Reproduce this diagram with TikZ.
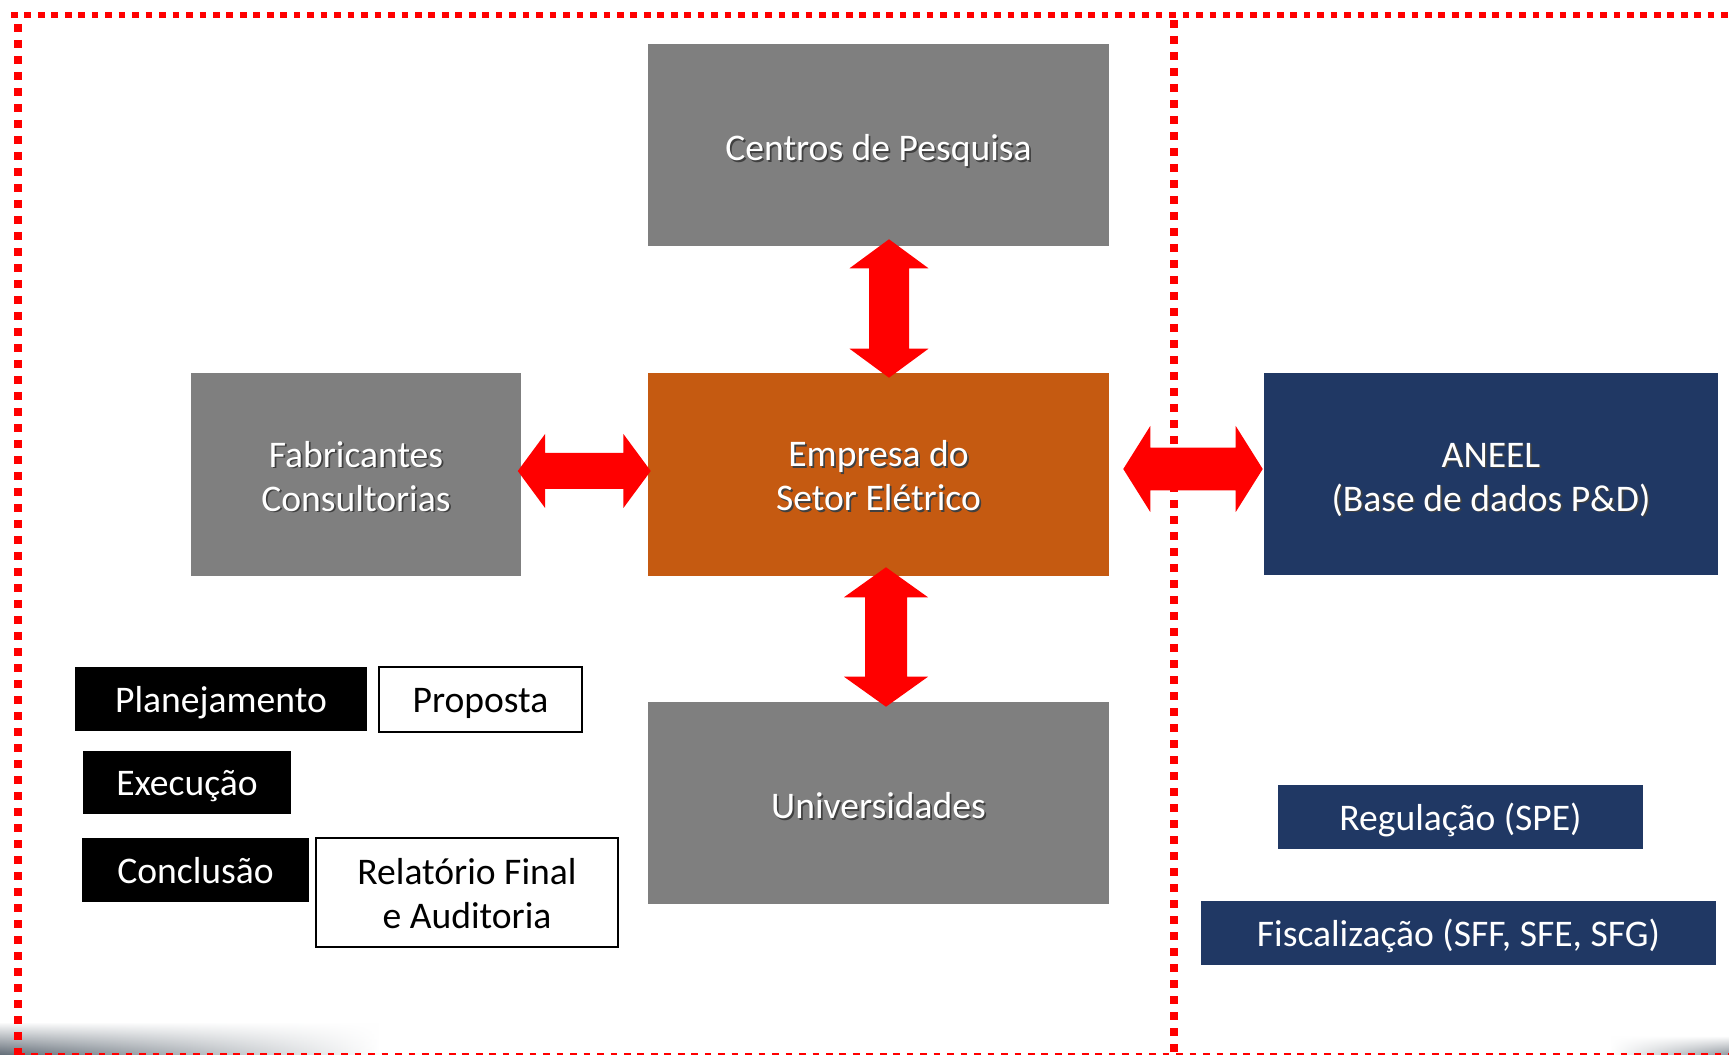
\documentclass[tikz,border=0pt]{standalone}
\usepackage{fontspec}
\setmainfont{Carlito}
\usetikzlibrary{calc,fadings}
\definecolor{boxgray}{HTML}{7F7F7F}
\definecolor{boxorange}{HTML}{C55A11}
\definecolor{boxnavy}{HTML}{203864}
\definecolor{arrowred}{HTML}{FF0000}
\definecolor{framered}{HTML}{FF0000}
\definecolor{cornershade}{HTML}{46525E}
% lower text ink by #1 while keeping box size
\newcommand\lw[2]{\raisebox{-#1}[\height][\depth]{#2}}
% white text with dark drop shadow, lowered by #1
\newcommand\shd[2]{\lw{#1}{\rlap{\hspace{1.3pt}\raisebox{-1.3pt}{\textcolor{black!75}{#2}}}#2}}
% vertical double block arrow: top tip, bottom tip, head length, head half width, shaft half width
\newcommand\vbarrow[5]{\fill[arrowred] let \p1=#1, \p2=#2 in
  (\x1,\y1) -- (\x1+#4,\y1-#3) -- (\x1+#5,\y1-#3) -- (\x1+#5,\y2+#3) -- (\x1+#4,\y2+#3)
  -- (\x1,\y2) -- (\x1-#4,\y2+#3) -- (\x1-#5,\y2+#3) -- (\x1-#5,\y1-#3) -- (\x1-#4,\y1-#3) -- cycle;}
% horizontal double block arrow: left tip, right tip, head length, head half width, shaft half width
\newcommand\hbarrow[5]{\fill[arrowred] let \p1=#1, \p2=#2 in
  (\x1,\y1) -- (\x1+#3,\y1+#4) -- (\x1+#3,\y1+#5) -- (\x2-#3,\y1+#5) -- (\x2-#3,\y1+#4)
  -- (\x2,\y1) -- (\x2-#3,\y1-#4) -- (\x2-#3,\y1-#5) -- (\x1+#3,\y1-#5) -- (\x1+#3,\y1-#4) -- cycle;}
\begin{document}
\begin{tikzpicture}[x=0.75pt,y=-0.75pt,
  lbl/.style={font=\fontsize{28.2}{33}\selectfont, inner sep=0pt, align=center},
  bigbox/.style={lbl, text=white},
  smallbox/.style={lbl, text=white, minimum height=48pt},
  outlinebox/.style={lbl, text=black, draw=black, line width=1.8pt},
  hframe/.style={framered, line width=5pt, dash pattern=on 5pt off 5.1pt},
  vframe/.style={framered, line width=6pt, dash pattern=on 5.8pt off 6.2pt}]
\useasboundingbox (0,0) rectangle (1729,1055);
\fill[white] (0,0) rectangle (1729,1055);

% corner shadows of the slide
\shade[left color=cornershade!85, right color=white, path fading=north] (0,1022) rectangle (380,1055);
\shade[left color=white, right color=cornershade!60, path fading=north] (1610,1036) rectangle (1729,1055);

% dotted frame
\draw[hframe] (11,15) -- (1729,15);
\draw[hframe] (18,1056.5) -- (1729,1056.5);
\draw[vframe] (18,24) -- (18,1055);
\draw[vframe] (1173.5,20) -- (1173.5,1055);

% main boxes
\node[bigbox, fill=boxgray, minimum width=345.75pt, minimum height=151.5pt] (cp) at (878.5,145) {\shd{5pt}{Centros de Pesquisa}};
\node[bigbox, fill=boxgray, minimum width=247.5pt, minimum height=152.25pt] (fab) at (356,474.5) {\shd{2pt}{Fabricantes}\\\shd{2pt}{Consultorias}};
\node[bigbox, fill=boxorange, minimum width=345.75pt, minimum height=152.25pt] (emp) at (878.5,474.5) {\shd{1.7pt}{Empresa do}\\\shd{1.7pt}{Setor Elétrico}};
\node[bigbox, fill=boxgray, minimum width=345.75pt, minimum height=151.5pt] (uni) at (878.5,803) {\shd{2.5pt}{Universidades}};
\node[bigbox, fill=boxnavy, minimum width=340.5pt, minimum height=151.5pt] (aneel) at (1491,474) {\shd{5pt}{ANEEL}\\\shd{5pt}{(Base de dados P\&D)}};

% right side small boxes
\node[smallbox, fill=boxnavy, minimum width=273.75pt] (reg) at (1460.5,817) {\lw{2.5pt}{Regulação (SPE)}};
\node[smallbox, fill=boxnavy, minimum width=386.25pt] (fisc) at (1458.5,933) {\lw{2.5pt}{Fiscalização (SFF, SFE, SFG)}};

% left legend boxes
\node[smallbox, fill=black, minimum width=219pt] (plan) at (221,699) {\lw{3pt}{Planejamento}};
\node[outlinebox, minimum width=152.25pt, minimum height=48.75pt] (prop) at (480.5,699.5) {\lw{3pt}{Proposta}};
\node[smallbox, fill=black, minimum width=156pt, minimum height=47.25pt] (exec) at (187,782.5) {\lw{3pt}{Execução}};
\node[smallbox, fill=black, minimum width=170.25pt] (conc) at (195.5,870) {\lw{0.5pt}{Conclusão}};
\node[outlinebox, minimum width=226.5pt, minimum height=81.75pt] (rel) at (467,892.5) {\lw{0.5pt}{Relatório Final}\\\lw{0.5pt}{e Auditoria}};

% block arrows
\vbarrow{($(cp.south)+(10.5,-7)$)}{($(emp.north)+(10.5,5)$)}{21.75pt}{29.6pt}{15pt}
\vbarrow{($(emp.south)+(7.5,-9)$)}{($(uni.north)+(7.5,5)$)}{22.5pt}{31.5pt}{15.75pt}
\hbarrow{($(fab.east)+(-3.5,-3.5)$)}{($(emp.west)+(3,-3.5)$)}{20.5pt}{27.75pt}{13.5pt}
\hbarrow{($(emp.east)+(14,-5.5)$)}{($(aneel.west)+(-1,-5.5)$)}{20.25pt}{32.25pt}{16.1pt}
\end{tikzpicture}
\end{document}
